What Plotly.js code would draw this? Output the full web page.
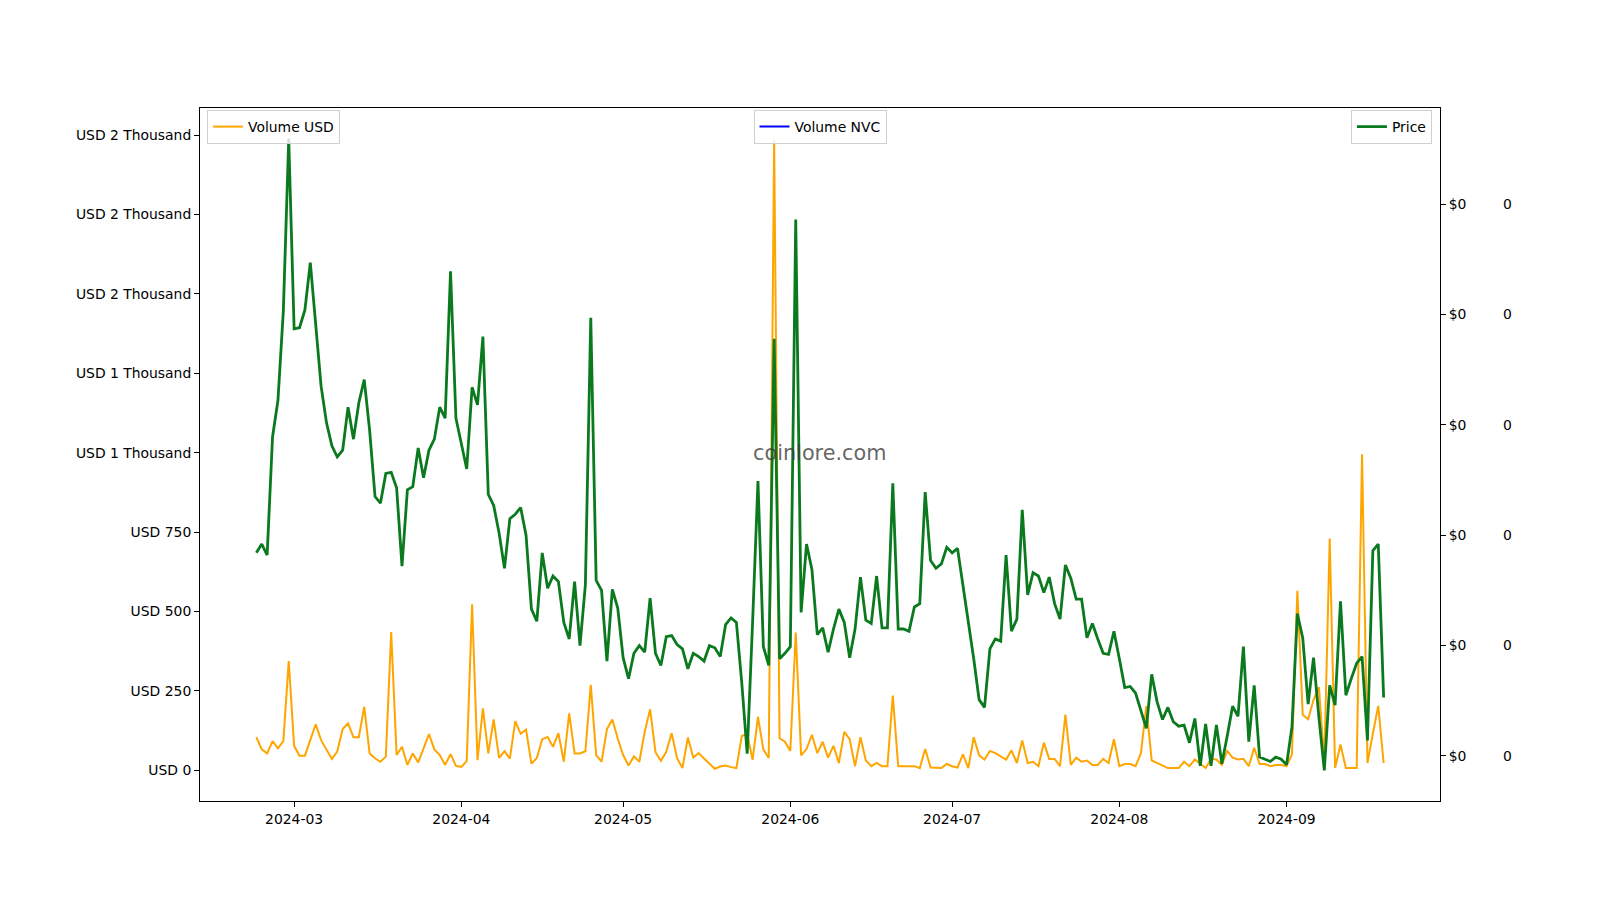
<!DOCTYPE html>
<html>
<head>
<meta charset="utf-8">
<script src="https://cdn.plot.ly/plotly-3.0.1.min.js"></script>
<style>
  html, body { margin: 0; padding: 0; background: #ffffff; }
  #chart { width: 1600px; height: 900px; }
</style>
</head>
<body>
<div id="chart"></div>
<script>
// ---- data ----
const startDate = '2024-02-23';
const volumeUSD = [
  104, 66, 53, 92, 69, 92, 344, 77, 46, 46,
  95, 145, 95, 66, 36, 59, 130, 148, 104, 104,
  200, 53, 38, 27, 43, 435, 48, 74, 17, 53,
  25, 69, 114, 66, 48, 17, 51, 14, 11, 29,
  523, 32, 195, 53, 160, 39, 60, 37, 155, 115,
  128, 21, 39, 98, 105, 74, 117, 27, 179, 53,
  53, 60, 269, 48, 27, 130, 160, 100, 48, 15,
  44, 27, 121, 192, 57, 30, 58, 117, 38, 7,
  103, 40, 54, 37, 21, 5, 12, 15, 10, 7,
  108, 115, 33, 168, 65, 39, 1984, 101, 90, 61,
  434, 47, 67, 112, 54, 90, 40, 77, 23, 121,
  98, 13, 104, 31, 13, 23, 13, 13, 235, 13,
  13, 13, 13, 7, 67, 9, 7, 7, 20, 13,
  9, 50, 7, 104, 47, 34, 61, 54, 44, 34,
  63, 23, 94, 23, 27, 13, 87, 36, 36, 13,
  175, 17, 40, 27, 31, 17, 17, 36, 23, 98,
  13, 20, 20, 13, 54, 202, 31, 23, 13, 7,
  7, 7, 27, 13, 34, 20, 7, 36, 34, 17,
  61, 40, 34, 36, 13, 71, 20, 20, 13, 17,
  17, 13, 50, 565, 175, 161, 222, 262, 27, 730,
  7, 81, 7, 7, 7, 995, 23, 115, 203, 23
];
const priceUSD = [
  2.84e-4, 2.92e-4, 2.82e-4, 3.89e-4, 4.22e-4, 5.03e-4, 6.59e-4, 4.87e-4, 4.88e-4, 5.04e-4,
  5.47e-4, 4.91e-4, 4.35e-4, 4.02e-4, 3.81e-4, 3.71e-4, 3.77e-4, 4.16e-4, 3.87e-4, 4.20e-4,
  4.41e-4, 3.95e-4, 3.35e-4, 3.29e-4, 3.56e-4, 3.57e-4, 3.43e-4, 2.72e-4, 3.41e-4, 3.44e-4,
  3.79e-4, 3.52e-4, 3.77e-4, 3.87e-4, 4.16e-4, 4.06e-4, 5.39e-4, 4.06e-4, 3.83e-4, 3.60e-4,
  4.34e-4, 4.18e-4, 4.80e-4, 3.37e-4, 3.27e-4, 3.02e-4, 2.70e-4, 3.15e-4, 3.19e-4, 3.25e-4,
  3.00e-4, 2.33e-4, 2.22e-4, 2.84e-4, 2.52e-4, 2.63e-4, 2.58e-4, 2.21e-4, 2.06e-4, 2.58e-4,
  2.00e-4, 2.55e-4, 4.97e-4, 2.59e-4, 2.50e-4, 1.86e-4, 2.51e-4, 2.34e-4, 1.89e-4, 1.70e-4,
  1.93e-4, 2.00e-4, 1.94e-4, 2.43e-4, 1.93e-4, 1.82e-4, 2.08e-4, 2.09e-4, 2.01e-4, 1.97e-4,
  1.79e-4, 1.93e-4, 1.90e-4, 1.86e-4, 2.00e-4, 1.98e-4, 1.90e-4, 2.19e-4, 2.25e-4, 2.21e-4,
  1.66e-4, 1.02e-4, 2.21e-4, 3.49e-4, 1.99e-4, 1.82e-4, 4.78e-4, 1.88e-4, 1.93e-4, 1.99e-4,
  5.86e-4, 2.30e-4, 2.92e-4, 2.69e-4, 2.10e-4, 2.16e-4, 1.94e-4, 2.15e-4, 2.33e-4, 2.21e-4,
  1.89e-4, 2.15e-4, 2.62e-4, 2.23e-4, 2.20e-4, 2.63e-4, 2.16e-4, 2.16e-4, 3.47e-4, 2.15e-4,
  2.15e-4, 2.13e-4, 2.35e-4, 2.38e-4, 3.39e-4, 2.77e-4, 2.70e-4, 2.74e-4, 2.89e-4, 2.84e-4,
  2.88e-4, 2.55e-4, 2.23e-4, 1.88e-4, 1.51e-4, 1.44e-4, 1.97e-4, 2.06e-4, 2.04e-4, 2.82e-4,
  2.13e-4, 2.24e-4, 3.23e-4, 2.46e-4, 2.66e-4, 2.63e-4, 2.48e-4, 2.62e-4, 2.38e-4, 2.24e-4,
  2.73e-4, 2.61e-4, 2.42e-4, 2.42e-4, 2.07e-4, 2.20e-4, 2.06e-4, 1.93e-4, 1.92e-4, 2.13e-4,
  1.88e-4, 1.62e-4, 1.63e-4, 1.57e-4, 1.41e-4, 1.25e-4, 1.74e-4, 1.49e-4, 1.33e-4, 1.44e-4,
  1.31e-4, 1.27e-4, 1.28e-4, 1.12e-4, 1.34e-4, 0.91e-4, 1.29e-4, 0.91e-4, 1.28e-4, 0.93e-4,
  1.18e-4, 1.45e-4, 1.36e-4, 1.99e-4, 1.13e-4, 1.64e-4, 0.99e-4, 0.97e-4, 0.95e-4, 0.99e-4,
  0.97e-4, 0.92e-4, 1.26e-4, 2.29e-4, 2.07e-4, 1.47e-4, 1.89e-4, 1.35e-4, 0.87e-4, 1.64e-4,
  1.46e-4, 2.40e-4, 1.55e-4, 1.70e-4, 1.84e-4, 1.90e-4, 1.14e-4, 2.86e-4, 2.92e-4, 1.53e-4
];
// Volume NVC has no recorded values in the source chart (line not visible)
const volumeNVC = [null];

const volTickVals = [0, 250, 500, 750, 1000, 1250, 1500, 1750, 2000];
const volTickText = ['USD 0', 'USD 250', 'USD 500', 'USD 750', 'USD 1 Thousand', 'USD 1 Thousand',
                     'USD 2 Thousand', 'USD 2 Thousand', 'USD 2 Thousand'];
const priceTickVals = [1e-4, 2e-4, 3e-4, 4e-4, 5e-4, 6e-4];
const priceTickText = ['$0', '$0', '$0', '$0', '$0', '$0'];
const nvcTickVals = [1, 2, 3, 4, 5, 6];
const nvcTickText = ['0', '0', '0', '0', '0', '0'];
const xTickVals = ['2024-03-01', '2024-04-01', '2024-05-01', '2024-06-01', '2024-07-01', '2024-08-01', '2024-09-01'];
const xTickText = ['2024-03', '2024-04', '2024-05', '2024-06', '2024-07', '2024-08', '2024-09'];

// daily dates
const dates = [];
{
  const d0 = new Date(startDate + 'T00:00:00Z');
  for (let i = 0; i < volumeUSD.length; i++) {
    const d = new Date(d0.getTime() + i * 86400000);
    dates.push(d.toISOString().slice(0, 10));
  }
}

const FONT = 'DejaVu Sans, sans-serif';
const FS = 13.9;

const traces = [
  { x: dates, y: volumeUSD, type: 'scatter', mode: 'lines', name: 'Volume USD',
    line: { color: '#FFA500', width: 2 }, yaxis: 'y', legend: 'legend', hoverinfo: 'skip' },
  { x: dates, y: priceUSD, type: 'scatter', mode: 'lines', name: 'Price',
    line: { color: '#0b7a1f', width: 2.8 }, yaxis: 'y2', legend: 'legend3', hoverinfo: 'skip' },
  { x: volumeNVC, y: volumeNVC, type: 'scatter', mode: 'lines', name: 'Volume NVC',
    line: { color: '#0000FF', width: 2 }, yaxis: 'y3', legend: 'legend2', showlegend: true, hoverinfo: 'skip' }
];

const legendBase = {
  bgcolor: 'rgba(255,255,255,0.8)', bordercolor: '#d0d0d0', borderwidth: 1,
  font: { family: FONT, size: FS, color: '#000' }, yanchor: 'top', y: 0.997, itemwidth: 30
};

const axisFont = { family: FONT, size: FS, color: '#000' };

const layout = {
  width: 1600, height: 900,
  margin: { l: 200, r: 98, t: 108, b: 99, pad: 0 },
  paper_bgcolor: '#ffffff', plot_bgcolor: '#ffffff',
  font: { family: FONT, size: FS, color: '#000' },
  showlegend: true,
  xaxis: {
    type: 'date', domain: [0, 0.95238],
    range: ['2024-02-12 13:12', '2024-09-29 10:48'],
    tickmode: 'array', tickvals: xTickVals, ticktext: xTickText,
    ticks: 'outside', ticklen: 5, tickwidth: 1, tickcolor: '#000',
    showline: true, linecolor: '#000', linewidth: 1, mirror: true,
    showgrid: false, zeroline: false, tickfont: axisFont
  },
  yaxis: {
    range: [-96.6, 2085],
    tickmode: 'array', tickvals: volTickVals, ticktext: volTickText,
    ticks: 'outside', ticklen: 5, tickwidth: 1, tickcolor: '#000',
    showline: true, linecolor: '#000', linewidth: 1, mirror: true,
    showgrid: false, zeroline: false, tickfont: axisFont
  },
  yaxis2: {
    overlaying: 'y', side: 'right', anchor: 'x',
    range: [0.592e-4, 6.87e-4],
    tickmode: 'array', tickvals: priceTickVals, ticktext: priceTickText,
    ticks: 'outside', ticklen: 5, tickwidth: 1, tickcolor: '#000',
    showline: true, linecolor: '#000', linewidth: 1,
    showgrid: false, zeroline: false, tickfont: axisFont
  },
  yaxis3: {
    overlaying: 'y', side: 'right', anchor: 'free', position: 1,
    range: [0.592, 6.87],
    tickmode: 'array', tickvals: nvcTickVals, ticktext: nvcTickText,
    ticks: '', showline: false,
    showgrid: false, zeroline: false, tickfont: axisFont
  },
  legend: Object.assign({}, legendBase, { x: 0.0054, xanchor: 'left' }),
  legend2: Object.assign({}, legendBase, { x: 0.4762, xanchor: 'center' }),
  legend3: Object.assign({}, legendBase, { x: 0.9462, xanchor: 'right' }),
  annotations: [{
    text: 'coinlore.com', xref: 'x domain', yref: 'y domain', x: 0.5, y: 0.502,
    xanchor: 'center', yanchor: 'middle', showarrow: false,
    font: { family: FONT, size: 20.8, color: 'rgba(60,60,60,0.8)' }
  }]
};

Plotly.newPlot('chart', traces, layout, { staticPlot: true, displayModeBar: false });
</script>
</body>
</html>
